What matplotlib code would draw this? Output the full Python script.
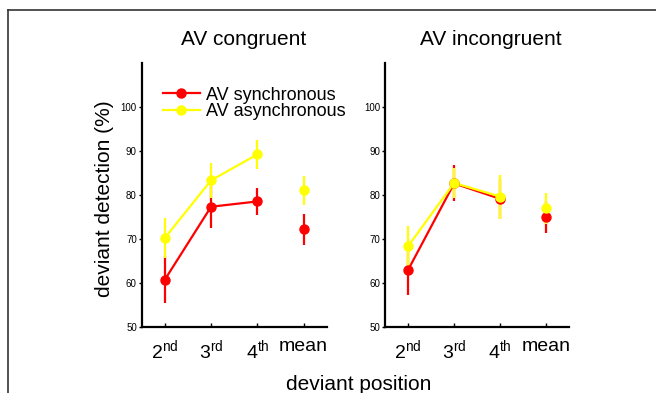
import matplotlib
matplotlib.use("Agg")
import matplotlib.pyplot as plt
from matplotlib.lines import Line2D
import numpy as np

plt.rcParams['font.family'] = ['Liberation Sans', 'DejaVu Sans']
plt.rcParams['mathtext.fontset'] = 'custom'
plt.rcParams['mathtext.rm'] = 'Liberation Sans'
plt.rcParams['mathtext.it'] = 'Liberation Sans'

positions = [1, 2, 3, 4]
tick_labels = [r'2$^{\rm nd}$', r'3$^{\rm rd}$', r'4$^{\rm th}$', 'mean']
yticks = [50, 60, 70, 80, 90, 100]

cong_sync = [60.7, 77.3, 78.5, 72.2]
cong_sync_err = [5.3, 4.9, 3.1, 3.5]
cong_async = [70.2, 83.3, 89.2, 81.0]
cong_async_err = [4.6, 4.0, 3.3, 3.2]

incong_sync = [62.9, 82.6, 79.1, 74.9]
incong_sync_err = [5.8, 4.1, 4.6, 3.6]
incong_async = [68.3, 82.7, 79.6, 76.9]
incong_async_err = [4.5, 3.5, 5.0, 3.6]

titles = ['AV congruent', 'AV incongruent']
series_labels = ['AV synchronous', 'AV asynchronous']
RED = '#ff0000'
YEL = '#ffff00'

W, H = 656, 393
fig = plt.figure(figsize=(W / 100, H / 100), dpi=100)

def px_axes(x0, x1, ytop, ybot):
    return fig.add_axes([x0 / W, 1 - ybot / H, (x1 - x0) / W, (ybot - ytop) / H])

ax1 = px_axes(141.7, 326.7, 63, 326.7)
ax2 = px_axes(385, 569.3, 63, 326.7)

panels = [
    (ax1, cong_sync, cong_sync_err, cong_async, cong_async_err),
    (ax2, incong_sync, incong_sync_err, incong_async, incong_async_err),
]

for ax, s, se, a, ae in panels:
    for vals, errs, col in [(s, se, RED), (a, ae, YEL)]:
        ax.plot(positions[:3], vals[:3], color=col, lw=1.6, zorder=2)
        ax.errorbar(positions, vals, yerr=errs, fmt='o', color=col, ms=6.5,
                    elinewidth=1.6, capsize=0, zorder=3)
    ax.set_xlim(0.5, 4.5)
    ax.set_ylim(50, 110)
    ax.set_xticks(positions)
    ax.set_xticklabels(tick_labels, fontsize=14)
    ax.set_yticks(yticks)
    ax.set_yticklabels([str(v) for v in yticks], fontsize=7)
    for sp in ['top', 'right']:
        ax.spines[sp].set_visible(False)
    for sp in ['left', 'bottom']:
        ax.spines[sp].set_linewidth(1.6)
        ax.spines[sp].set_color('black')
    ax.tick_params(axis='x', direction='in', length=3, width=1, pad=8)
    ax.tick_params(axis='y', direction='out', length=2, width=1, pad=1.5)

# titles
fig.text(243.8 / W, 1 - 45 / H, titles[0], fontsize=15, ha='center', va='baseline')
fig.text(490.5 / W, 1 - 45 / H, titles[1], fontsize=15, ha='center', va='baseline')

# y label
fig.text(104 / W, 1 - 199 / H, 'deviant detection (%)', fontsize=15, rotation=90,
         ha='center', va='center')
# x label
fig.text(358.5 / W, 1 - 390 / H, 'deviant position', fontsize=15, ha='center',
         va='baseline')

# legend
handles = [Line2D([], [], color=RED, lw=1.6, marker='o', ms=6.5),
           Line2D([], [], color=YEL, lw=1.6, marker='o', ms=6.5)]
ax1.legend(handles, series_labels, loc='upper left',
           bbox_to_anchor=(162.7 / W, 1 - 86.5 / H), bbox_transform=fig.transFigure,
           frameon=False, fontsize=13, handlelength=2.05, handletextpad=0.33,
           labelspacing=0.0, borderpad=0, borderaxespad=0)

# outer frame lines
fig.add_artist(Line2D([8 / W, 1], [1 - 9.5 / H, 1 - 9.5 / H], color='#333333', lw=1.2,
                      transform=fig.transFigure))
fig.add_artist(Line2D([8 / W, 8 / W], [1 - 9.5 / H, 0], color='#333333', lw=1.2,
                      transform=fig.transFigure))

fig.savefig('out.png', dpi=100)
